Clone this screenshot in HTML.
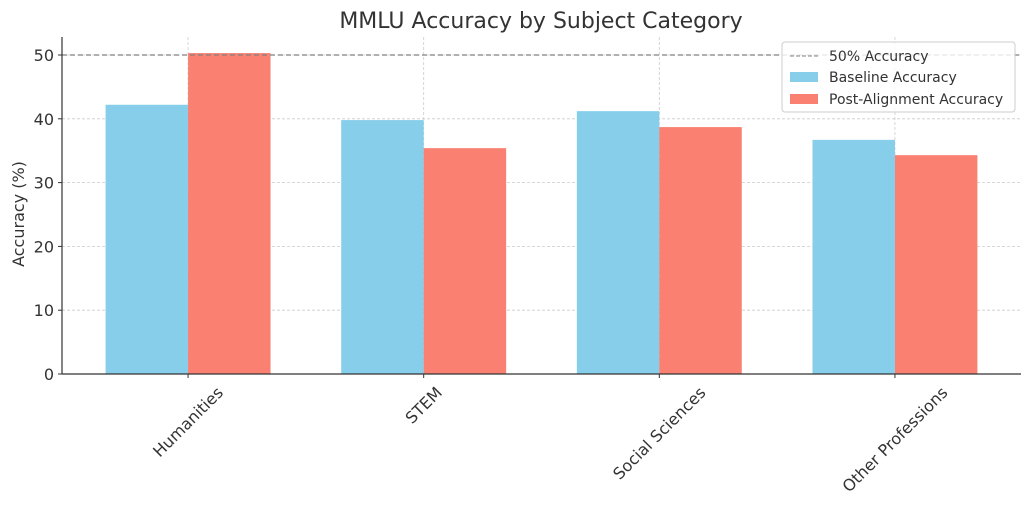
<!DOCTYPE html>
<html><head><meta charset="utf-8"><style>
body{margin:0;background:#fff;}
svg{display:block;font-family:"DejaVu Sans","Liberation Sans",sans-serif;}
</style></head><body>
<svg id="chart" width="1032" height="510" viewBox="0 0 1032 510" xmlns="http://www.w3.org/2000/svg">
<text x="541" y="28" text-anchor="middle" font-size="22" fill="#333">MMLU Accuracy by Subject Category</text>
<text transform="translate(24,214) rotate(-90)" text-anchor="middle" font-size="16" fill="#333">Accuracy (%)</text>
<g id="grid"></g><g id="bars"></g><g id="axes"></g>
<g>
<rect x="782" y="42" width="233" height="70" rx="3" fill="#fff" fill-opacity="0.8" stroke="#ccc"/>
<line x1="790" y1="56" x2="818" y2="56" stroke="#808080" stroke-dasharray="4,2"/>
<text x="829" y="61" font-size="14" fill="#333">50% Accuracy</text>
<rect x="790" y="72" width="28" height="10" fill="#87CEEB"/>
<text x="829" y="82" font-size="14" fill="#333">Baseline Accuracy</text>
<rect x="790" y="94" width="28" height="10" fill="#FA8072"/>
<text x="829" y="104" font-size="14" fill="#333">Post-Alignment Accuracy</text>
</g>
</svg>
<script>
const categories=["Humanities","STEM","Social Sciences","Other Professions"];
const baseline=[42.2,39.8,41.2,36.7];
const postAlign=[50.3,35.4,38.7,34.3];
const yTicks=[0,10,20,30,40,50];
const refLine=50;
const NS="http://www.w3.org/2000/svg";
const L=62,R=1021,T=37,B=374;
const xMin=-0.535,xMax=3.535;
const x=v=>L+(v-xMin)/(xMax-xMin)*(R-L);
const y=v=>B-v/50*(B-55);
const bw=0.35;
function mk(tag,attrs,parent){const e=document.createElementNS(NS,tag);for(const k in attrs)e.setAttribute(k,attrs[k]);parent.appendChild(e);return e;}
const grid=document.getElementById('grid'),bars=document.getElementById('bars'),axes=document.getElementById('axes');
yTicks.forEach(t=>{
  const g=mk('line',{x1:L,x2:R,y1:y(t),y2:y(t),stroke:'#ccc','stroke-dasharray':'3,2','stroke-width':0.8},grid);
  
  
  const tk=mk('line',{x1:L-4,x2:L,y1:y(t),y2:y(t),stroke:'#333'},axes);
  
  
  const tx=mk('text',{x:L-8,y:y(t)+6,'text-anchor':'end','font-size':16,fill:'#333'},axes);
  tx.textContent=t;
  
  
});
categories.forEach((c,i)=>{
  const g=mk('line',{x1:x(i),x2:x(i),y1:T,y2:B,stroke:'#ccc','stroke-dasharray':'3,2','stroke-width':0.8},grid);
  
  
  const b1=mk('rect',{x:x(i-bw),y:y(baseline[i]),width:x(i)-x(i-bw),height:B-y(baseline[i]),fill:'#87CEEB'},bars);
  
  
  const b2=mk('rect',{x:x(i),y:y(postAlign[i]),width:x(i+bw)-x(i),height:B-y(postAlign[i]),fill:'#FA8072'},bars);
  
  
  const tk=mk('line',{x1:x(i),x2:x(i),y1:B,y2:B+4,stroke:'#333'},axes);
  
  
  const tx=mk('text',{'text-anchor':'middle','font-size':16,fill:'#333','dominant-baseline':'central'},axes);
  tx.textContent=c;
  
  
  const len=tx.getComputedTextLength();
  const h=(len+19)*0.7071;
  tx.setAttribute('transform',`translate(${x(i)},${B+9+h/2}) rotate(-45)`);
});
const rl=mk('line',{x1:L,x2:R,y1:y(refLine),y2:y(refLine),stroke:'#808080','stroke-dasharray':'5,3','stroke-width':1.2},bars);


const ax1=mk('line',{x1:L,x2:L,y1:T,y2:B,stroke:'#333','stroke-width':1.2},axes);


const ax2=mk('line',{x1:L,x2:R,y1:B,y2:B,stroke:'#333','stroke-width':1.2},axes);


</script>
</body></html>
